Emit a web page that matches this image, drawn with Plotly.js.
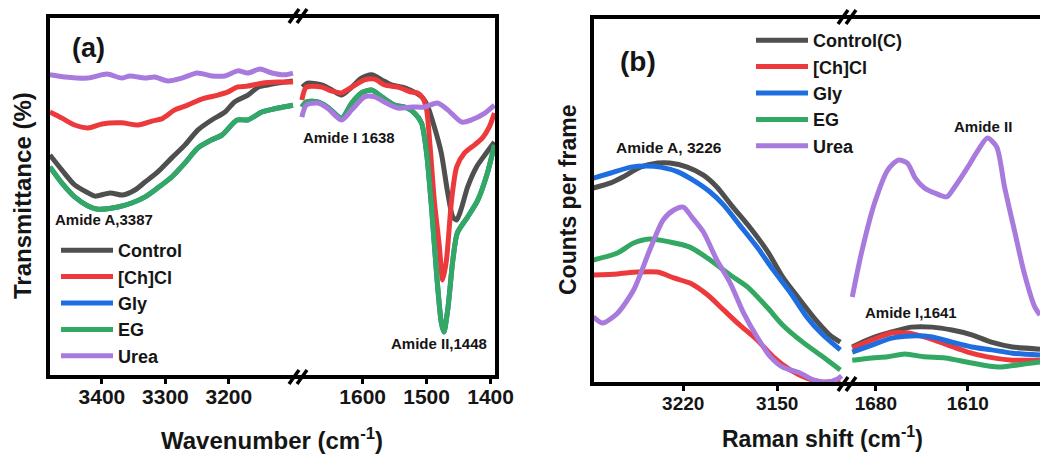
<!DOCTYPE html>
<html>
<head>
<meta charset="utf-8">
<script src="https://cdn.plot.ly/plotly-3.0.1.min.js"></script>
<style>html,body{margin:0;padding:0;background:#fff;}#chart{width:1040px;height:456px;}</style>
</head>
<body>
<div id="chart"></div>
<script>
// ---------- DATA ----------
// Panel (a): FTIR, wavenumber (cm-1) vs transmittance (arbitrary, 0-100)
const ftirNames = ['Control', '[Ch]Cl', 'Gly', 'EG', 'Urea'];
const ramanNames = ['Control(C)', '[Ch]Cl', 'Gly', 'EG', 'Urea'];

const aTickHi = [3400, 3300, 3200];
const aTickLo = [1600, 1500, 1400];
const bTickHi = [3220, 3150];
const bTickLo = [1680, 1610];

// Control (a)
const aCtrlHiX = [3482,3463,3443,3422,3411,3387,3367,3348,3332,3312,3290,3269,3249,3227,3206,3191,3170,3154,3139,3123,3099];
const aCtrlHiY = [61.5,57.3,53.2,51.0,50.1,51.0,50.4,51.8,54.0,56.8,60.7,64.3,68.4,71.2,73.4,76.2,78.1,80.3,80.9,81.4,82.0];
const aCtrlLoX = [1694,1686,1664,1648,1633,1617,1602,1586,1570,1555,1534,1519,1506,1498,1488,1477,1467,1459,1453,1445,1436,1422,1409,1394];
const aCtrlLoY = [80.3,81.4,80.9,79.5,78.1,80.3,82.8,83.7,82.3,80.9,80.1,78.9,77.3,74.8,69.3,62.0,51.0,44.3,43.5,47.1,52.6,58.2,61.5,65.1];
// [Ch]Cl (a)
const aChclHiX = [3482,3463,3443,3422,3400,3369,3343,3321,3306,3285,3265,3243,3217,3202,3187,3170,3148,3123,3099];
const aChclHiY = [73.4,71.7,69.8,69.0,70.1,70.4,69.8,70.9,71.5,74.0,75.3,77.0,78.1,78.9,80.3,80.6,81.4,81.7,81.7];
const aChclLoX = [1695,1688,1664,1648,1633,1617,1597,1581,1566,1545,1523,1514,1506,1500,1495,1488,1480,1475,1469,1461,1453,1441,1425,1413,1402,1394];
const aChclLoY = [76.7,80.3,80.3,79.2,78.7,80.3,82.3,82.5,80.9,80.3,78.9,78.7,77.3,74.0,64.8,49.0,36.0,26.9,32.4,49.0,58.2,62.0,64.3,66.2,69.3,73.1];
// EG (a)
const aEgHiX = [3482,3463,3443,3422,3406,3375,3353,3332,3312,3290,3269,3249,3227,3211,3187,3170,3148,3123,3099];
const aEgHiY = [58.2,53.7,49.9,47.4,46.5,47.1,48.2,49.9,52.4,55.4,59.3,63.4,65.7,67.0,71.2,71.2,73.4,74.5,75.3];
const aEgLoX = [1695,1688,1670,1655,1633,1617,1602,1586,1570,1550,1534,1519,1508,1500,1492,1484,1477,1473,1467,1459,1452,1436,1420,1405,1394];
const aEgLoY = [74.8,76.2,76.2,74.8,71.7,75.9,78.7,79.5,77.6,75.3,74.8,73.1,70.4,62.0,46.3,27.7,15.0,12.5,18.6,32.4,39.9,44.3,49.0,56.5,64.3];
// Gly (a): hidden beneath EG in the figure
const aGlyHiX = aEgHiX, aGlyHiY = aEgHiY, aGlyLoX = aEgLoX, aGlyLoY = aEgLoY;
// Urea (a)
const aUreaHiX = [3482,3458,3422,3392,3369,3356,3332,3317,3296,3274,3250,3227,3206,3186,3170,3151,3132,3112,3099];
const aUreaHiY = [83.7,83.1,82.8,83.9,82.8,83.4,82.8,83.1,82.0,82.8,84.2,83.4,83.4,84.8,84.2,85.3,84.2,83.7,84.2];
const aUreaLoX = [1695,1688,1670,1655,1633,1617,1597,1581,1566,1545,1523,1503,1483,1467,1445,1430,1409,1394];
const aUreaLoY = [72.0,75.3,75.9,74.5,71.2,74.0,77.6,77.6,76.2,74.5,74.8,74.8,75.9,74.0,70.6,71.2,73.1,75.3];

// Panel (b): Raman shift (cm-1) vs counts per frame (arbitrary, 0-100)
const bCtrlHiX = [3287,3274,3265,3252,3239,3230,3217,3205,3195,3183,3170,3157,3146,3133,3120,3111,3103];
const bCtrlHiY = [53.4,54.8,56.4,59.1,60.2,60.2,59.1,56.9,53.7,48.2,42.5,36.0,29.2,22.9,16.9,13.4,11.4];
const bCtrlLoX = [1698,1683,1668,1653,1637,1622,1607,1592,1576,1555];
const bCtrlLoY = [10.1,12.5,14.2,15.5,15.5,14.7,13.4,11.4,10.1,9.5];
const bChclHiX = [3287,3269,3254,3239,3227,3215,3202,3190,3178,3165,3153,3140,3128,3116,3103];
const bChclHiY = [29.7,30.0,30.5,30.5,28.9,27.5,24.3,20.2,16.1,12.0,7.4,3.8,1.6,0.5,1.1];
const bChclLoX = [1698,1683,1668,1656,1640,1625,1610,1595,1576,1555];
const bChclLoY = [9.8,12.0,13.9,13.9,12.5,10.6,8.7,7.4,6.5,6.5];
const bGlyHiX = [3287,3274,3259,3247,3237,3224,3213,3200,3190,3178,3165,3153,3140,3128,3116,3103];
const bGlyHiY = [56.1,57.5,59.1,59.4,59.1,57.8,55.6,52.3,48.8,43.3,37.3,31.1,24.8,18.3,13.4,9.3];
const bGlyLoX = [1698,1683,1668,1653,1637,1622,1607,1592,1576,1555];
const bGlyLoY = [8.7,10.6,12.5,13.1,12.8,11.4,10.1,9.3,8.4,7.9];
const bEgHiX = [3287,3269,3257,3245,3230,3215,3200,3185,3172,3157,3146,3131,3116,3103];
const bEgHiY = [33.8,35.7,38.4,39.5,38.7,37.3,33.8,29.7,26.4,20.7,16.1,11.4,7.4,3.8];
const bEgLoX = [1698,1683,1671,1658,1643,1627,1607,1587,1572,1555];
const bEgLoY = [6.5,7.1,7.4,8.2,7.4,7.1,5.7,4.6,5.2,6.0];
const bUreaHiX = [3287,3280,3269,3257,3245,3235,3227,3220,3213,3205,3195,3185,3175,3165,3155,3146,3133,3123,3113,3105,3102];
const bUreaHiY = [18.3,16.6,19.3,25.6,36.5,44.7,47.4,48.2,45.2,41.4,33.8,27.5,19.3,12.8,7.4,4.6,3.0,1.1,0.5,1.4,2.2];
const bUreaLoX = [1698,1691,1681,1671,1663,1656,1650,1643,1635,1626,1620,1610,1602,1595,1588,1582,1574,1567,1559,1555];
const bUreaLoY = [23.7,35.7,49.3,58.3,61.0,60.2,56.1,53.4,52.0,51.0,53.7,59.1,63.8,67.0,64.6,53.7,41.1,30.2,21.0,18.8];

// ---------- STYLE ----------
const seriesColors = ['#4f4f4f', '#ec3a3c', '#1f6ee0', '#33a862', '#a87add'];
const W = 1040, H = 456;
const fx = p => p / W;
const fy = p => 1 - p / H;

const traces = [];
function addSeries(name, color, hx, hy, lx, ly, xa1, xa2, ya, leg, grp) {
  const line = {color: color, width: 5, shape: 'spline', smoothing: 0.7};
  traces.push({x: hx, y: hy, xaxis: xa1, yaxis: ya, type: 'scatter', mode: 'lines', name: name,
    line: line, legend: leg, legendgroup: grp, showlegend: true, hoverinfo: 'x+y+name'});
  traces.push({x: lx, y: ly, xaxis: xa2, yaxis: ya, type: 'scatter', mode: 'lines', name: name,
    line: line, legend: leg, legendgroup: grp, showlegend: false, hoverinfo: 'x+y+name'});
}
const aData = [
  [aCtrlHiX, aCtrlHiY, aCtrlLoX, aCtrlLoY],
  [aChclHiX, aChclHiY, aChclLoX, aChclLoY],
  [aGlyHiX, aGlyHiY, aGlyLoX, aGlyLoY],
  [aEgHiX, aEgHiY, aEgLoX, aEgLoY],
  [aUreaHiX, aUreaHiY, aUreaLoX, aUreaLoY]
];
const bData = [
  [bCtrlHiX, bCtrlHiY, bCtrlLoX, bCtrlLoY],
  [bChclHiX, bChclHiY, bChclLoX, bChclLoY],
  [bGlyHiX, bGlyHiY, bGlyLoX, bGlyLoY],
  [bEgHiX, bEgHiY, bEgLoX, bEgLoY],
  [bUreaHiX, bUreaHiY, bUreaLoX, bUreaLoY]
];
aData.forEach((d, i) => addSeries(ftirNames[i], seriesColors[i], d[0], d[1], d[2], d[3], 'x', 'x2', 'y', 'legend', 'a' + i));
bData.forEach((d, i) => addSeries(ramanNames[i], seriesColors[i], d[0], d[1], d[2], d[3], 'x3', 'x4', 'y2', 'legend2', 'b' + i));

const FONT = 'Arial, "Liberation Sans", sans-serif';
function xax(domain, range, ticks, anchor, size, standoff) {
  return {domain: domain, range: range, tickvals: ticks, ticktext: ticks.map(String),
    ticks: 'outside', ticklen: 6, tickwidth: 3, tickcolor: '#000', showline: false,
    showgrid: false, zeroline: false, anchor: anchor, fixedrange: true, ticklabelstandoff: standoff,
    tickfont: {family: FONT, size: size, color: '#151515', weight: 700}};
}
function yax(domain, anchor) {
  return {domain: domain, range: [0, 100], showticklabels: false, showgrid: false, zeroline: false,
    ticks: '', showline: false, anchor: anchor, fixedrange: true};
}

// frame geometry (pixels)
const aL = 48, aR = 497, aT = 16, aB = 377, aBrk = 298;
const bL = 592, bR = 1052, bT = 17, bB = 384, bBrk = 847;

const shapes = [];
function frame(l, r, t, b) {
  shapes.push({type: 'rect', xref: 'paper', yref: 'paper', x0: fx(l), x1: fx(r), y0: fy(b), y1: fy(t),
    line: {color: '#000', width: 4}, fillcolor: 'rgba(0,0,0,0)', layer: 'above'});
}
function brk(cx, cy) {
  [-4, 4].forEach(o => {
    shapes.push({type: 'line', xref: 'paper', yref: 'paper',
      x0: fx(cx + o - 5), y0: fy(cy + 7), x1: fx(cx + o + 5), y1: fy(cy - 7),
      line: {color: '#000', width: 3.5}, layer: 'above'});
  });
}
frame(aL, aR, aT, aB);
frame(bL, bR, bT, bB);
brk(aBrk, aT); brk(aBrk, aB); brk(bBrk, bT); brk(bBrk, bB);

function ann(text, px, py, size, angle) {
  return {text: text, xref: 'paper', yref: 'paper', x: fx(px), y: fy(py), xanchor: 'center', yanchor: 'middle',
    showarrow: false, textangle: angle || 0, font: {family: FONT, size: size, color: '#151515', weight: 700}};
}
const annotations = [
  ann('(a)', 88, 48, 27),
  ann('(b)', 638, 61, 28),
  ann('Amide A,3387', 104, 220, 15),
  ann('Amide I 1638', 349, 137, 15),
  ann('Amide II,1448', 439, 343, 15),
  ann('Amide A, 3226', 669, 147, 15.5),
  ann('Amide II', 983, 126, 15),
  ann('Amide I,1641', 911, 312, 15),
  ann('Wavenumber (cm<sup>-1</sup>)', 272, 439, 24),
  ann('Raman shift (cm<sup>-1</sup>)', 822, 437, 23),
  ann('Transmittance (%)', 22, 196, 24, -90),
  ann('Counts per frame', 568, 200, 23, -90)
];

const legFont = {family: FONT, size: 18, color: '#151515', weight: 700};
const layout = {
  width: W, height: H,
  margin: {l: 0, r: 0, t: 0, b: 0},
  paper_bgcolor: '#fff', plot_bgcolor: '#fff',
  showlegend: true,
  xaxis: xax([fx(aL), fx(aBrk)], [3485, 3091], aTickHi, 'y', 21, -5),
  xaxis2: xax([fx(aBrk), fx(aR)], [1701, 1390], aTickLo, 'y', 21, -5),
  yaxis: yax([fy(aB), fy(aT)], 'x'),
  xaxis3: xax([fx(bL), fx(bBrk)], [3288, 3098], bTickHi, 'y2', 19, -4),
  xaxis4: xax([fx(bBrk), 1], [1702, 1555], bTickLo, 'y2', 19, -4),
  yaxis2: yax([fy(bB), fy(bT)], 'x3'),
  legend: {x: fx(56), y: fy(232), xanchor: 'left', yanchor: 'top', font: legFont,
    bgcolor: 'rgba(0,0,0,0)', borderwidth: 0, itemwidth: 52, tracegroupgap: 0, traceorder: 'normal'},
  legend2: {x: fx(751), y: fy(22), xanchor: 'left', yanchor: 'top', font: legFont,
    bgcolor: 'rgba(0,0,0,0)', borderwidth: 0, itemwidth: 52, tracegroupgap: 0, traceorder: 'normal'},
  shapes: shapes,
  annotations: annotations
};
Plotly.newPlot('chart', traces, layout, {displayModeBar: false, staticPlot: true});
</script>
</body>
</html>
